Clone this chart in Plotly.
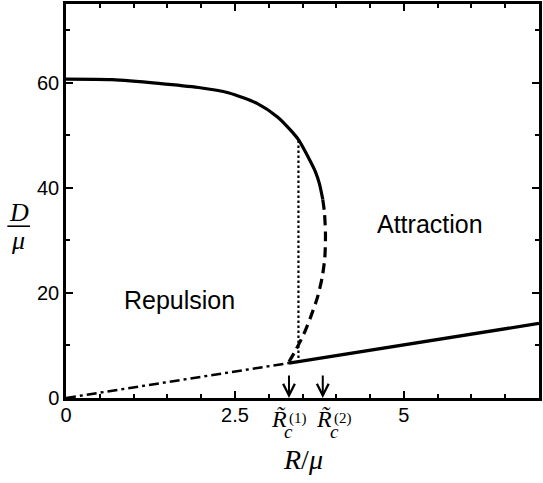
import plotly.graph_objects as go

# ---- data ----
R_upper = [0.0, 0.68, 1.37, 1.96, 2.40, 2.84, 3.13, 3.35, 3.45, 3.57, 3.69, 3.75, 3.80]
D_upper = [60.7, 60.6, 59.9, 59.1, 58.1, 56.0, 53.5, 50.6, 49.0, 46.2, 43.1, 40.8, 37.8]

R_unstable = [3.80, 3.825, 3.84, 3.83, 3.79, 3.72, 3.62, 3.52, 3.40, 3.30]
D_unstable = [37.8, 35.3, 31.1, 26.7, 22.9, 19.1, 15.4, 12.2, 9.1, 6.9]

R_lower_dd = [0.0, 1.5, 3.3]
D_lower_dd = [0.0, 3.0, 6.65]

R_lower = [3.3, 5.0, 7.0]
D_lower = [6.65, 10.1, 14.2]

R_maxwell = [3.44, 3.44]
D_maxwell = [49.0, 7.0]

Rc = [3.3, 3.8]
Rc_labels = ["(1)", "(2)"]

x_ticks = [0, 2.5, 5]
x_ticktext = ["0", "2.5", "5"]
y_ticks = [0, 20, 40, 60]

fig = go.Figure()
fig.add_trace(go.Scatter(x=R_lower_dd, y=D_lower_dd, mode="lines",
                         line=dict(color="black", width=2.5, dash="10px,4px,3px,4px")))
fig.add_trace(go.Scatter(x=R_lower, y=D_lower, mode="lines",
                         line=dict(color="black", width=3.3)))
fig.add_trace(go.Scatter(x=R_maxwell, y=D_maxwell, mode="lines",
                         line=dict(color="black", width=2.2, dash="2.5px,2.5px")))
fig.add_trace(go.Scatter(x=R_unstable, y=D_unstable, mode="lines", line_shape="spline",
                         line=dict(color="black", width=3.2, dash="10px,6px", smoothing=0.7)))
fig.add_trace(go.Scatter(x=R_upper, y=D_upper, mode="lines", line_shape="spline",
                         line=dict(color="black", width=3.2, smoothing=0.7)))

tickfont = dict(family="Liberation Sans, Arial, sans-serif", size=20, color="black")
axis_common = dict(showline=True, linecolor="black", linewidth=2.5, mirror="allticks",
                   ticks="inside", ticklen=7, tickwidth=1.5, tickcolor="black",
                   showgrid=False, zeroline=False, tickfont=tickfont)

fig.update_xaxes(range=[0, 7], tickvals=x_ticks, ticktext=x_ticktext, ticklabelstandoff=-3,
                 minor=dict(dtick=0.5, ticks="inside", ticklen=4, tickwidth=1.5, tickcolor="black"),
                 **axis_common)
fig.update_yaxes(range=[0, 75], tickvals=y_ticks,
                 minor=dict(dtick=10, ticks="inside", ticklen=4, tickwidth=1.5, tickcolor="black"),
                 **axis_common)

serif = "Liberation Serif, Times New Roman, serif"
sans = "Liberation Sans, Arial, sans-serif"
ann = []
ann.append(dict(x=1.68, y=18.7, xref="x", yref="y", text="Repulsion", showarrow=False,
                font=dict(family=sans, size=25, color="black")))
ann.append(dict(x=5.38, y=33.2, xref="x", yref="y", text="Attraction", showarrow=False,
                font=dict(family=sans, size=25, color="black")))

# critical radius arrows and labels
label_shifts = [(-10, 0, 9), (1, 12, 20)]
for rc, lab, (sR, sc, ss) in zip(Rc, Rc_labels, label_shifts):
    ann.append(dict(x=rc, y=0, xref="x", yref="y", text="", showarrow=True,
                    ax=0, ay=-24, arrowhead=5, arrowwidth=2, arrowsize=1.15,
                    arrowcolor="black", standoff=0))
    ann.append(dict(x=rc, y=0, xref="x", yref="y", text="<i>R\u0303</i>", showarrow=False,
                    xanchor="center", yanchor="middle", borderpad=0,
                    xshift=sR, yshift=-21, font=dict(family=serif, size=24, color="black")))
    ann.append(dict(x=rc, y=0, xref="x", yref="y", text="<i>c</i>", showarrow=False,
                    xanchor="center", yanchor="middle", borderpad=0,
                    xshift=sc, yshift=-33, font=dict(family=serif, size=19, color="black")))
    ann.append(dict(x=rc, y=0, xref="x", yref="y", text=lab, showarrow=False,
                    xanchor="center", yanchor="middle", borderpad=0,
                    xshift=ss, yshift=-20, font=dict(family=serif, size=15, color="black")))

# axis titles
ann.append(dict(x=0.5, y=0, xref="paper", yref="paper", text="<i>R</i>/<i>\u03bc</i>",
                xanchor="center", yanchor="middle",
                showarrow=False, yshift=-61, font=dict(family=serif, size=28, color="black")))
ann.append(dict(x=0, y=35.3, xref="paper", yref="y", text="<i>D</i>", showarrow=False,
                xanchor="center", yanchor="middle",
                xshift=-47, font=dict(family=serif, size=26, color="black")))
ann.append(dict(x=0, y=30.0, xref="paper", yref="y", text="<i>\u03bc</i>", showarrow=False,
                xanchor="center", yanchor="middle",
                xshift=-48, font=dict(family=serif, size=26, color="black")))

fig.update_layout(
    width=543, height=483,
    margin=dict(l=66, r=1, t=1, b=85),
    paper_bgcolor="white", plot_bgcolor="white",
    showlegend=False, hovermode=False,
    annotations=ann,
    shapes=[dict(type="line", xref="paper", yref="y", x0=-0.124, x1=-0.076, y0=32.7, y1=32.7,
                 line=dict(color="black", width=1.6))],
)

fig.write_html("out.html")
